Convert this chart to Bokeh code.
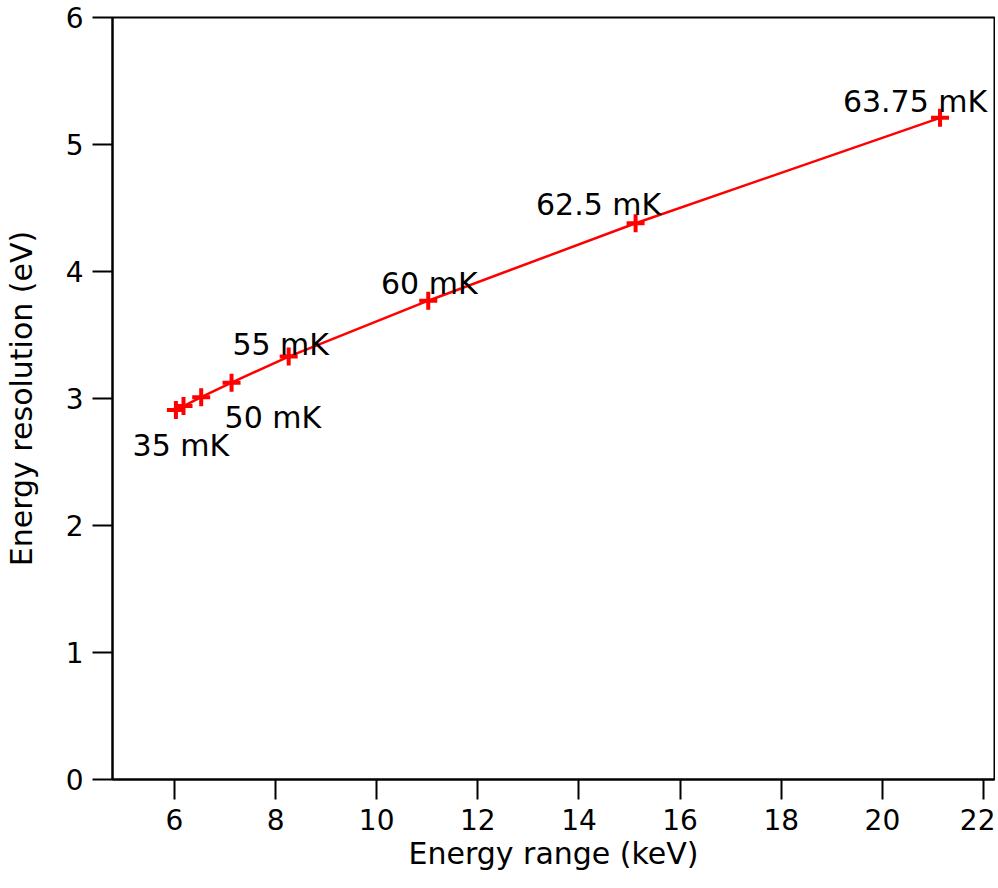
from bokeh.plotting import figure
from bokeh.models import ColumnDataSource, Label, FixedTicker, Range1d
from bokeh.embed import file_html
from bokeh.resources import INLINE

# Data
energy_range = [6.03, 6.18, 6.53, 7.13, 8.26, 11.02, 15.12, 21.14]   # keV
energy_resolution = [2.91, 2.94, 3.01, 3.125, 3.33, 3.77, 4.38, 5.21]  # eV
temperature_labels = ["35 mK", "", "", "50 mK", "55 mK", "60 mK", "62.5 mK", "63.75 mK"]
x_ticks = [6, 8, 10, 12, 14, 16, 18, 20, 22]
y_ticks = [0, 1, 2, 3, 4, 5, 6]

# label placement (style): (x_offset px, y_offset px, align)
label_style = {
    "35 mK": (5, -36, "center"),
    "50 mK": (-7, -35, "left"),
    "55 mK": (-8, 12, "center"),
    "60 mK": (1, 17, "center"),
    "62.5 mK": (-37, 19, "center"),
    "63.75 mK": (-25, 16, "center"),
}

FONT = "DejaVu Sans"
RED = "#ff0000"

p = figure(frame_width=882, frame_height=762,
           min_border_left=107, min_border_right=1,
           min_border_top=17, min_border_bottom=101,
           x_range=Range1d(4.776, 22.217), y_range=Range1d(0, 6),
           output_backend="svg", toolbar_location=None, tools="")

p.background_fill_color = "white"
p.border_fill_color = "white"
p.outline_line_color = "black"
p.outline_line_width = 2
p.xgrid.visible = False
p.ygrid.visible = False

for ax in (p.xaxis[0], p.yaxis[0]):
    ax.axis_line_width = 2
    ax.axis_line_color = "black"
    ax.major_tick_line_width = 2
    ax.major_tick_line_color = "black"
    ax.major_tick_out = 20
    ax.major_tick_in = 0
    ax.minor_tick_line_color = None
    ax.major_label_text_font = FONT
    ax.major_label_text_font_size = "28px"
    ax.major_label_text_color = "black"
    ax.axis_label_text_font = FONT
    ax.axis_label_text_font_size = "30px"
    ax.axis_label_text_font_style = "normal"
    ax.axis_label_text_color = "black"

p.xaxis.ticker = FixedTicker(ticks=x_ticks)
p.yaxis.ticker = FixedTicker(ticks=y_ticks)
p.xaxis.axis_label = "Energy range (keV)"
p.yaxis.axis_label = "Energy resolution (eV)"
p.xaxis.major_label_standoff = 9
p.yaxis.major_label_standoff = 9
p.xaxis.axis_label_standoff = 3
p.yaxis.axis_label_standoff = 24

src = ColumnDataSource(data=dict(x=energy_range, y=energy_resolution))
p.line("x", "y", source=src, line_color=RED, line_width=2.5)
p.scatter("x", "y", source=src, marker="cross", size=18, line_color=RED, line_width=4)

for xv, yv, t in zip(energy_range, energy_resolution, temperature_labels):
    if not t:
        continue
    dx, dy, align = label_style[t]
    p.add_layout(Label(x=xv, y=yv, x_offset=dx, y_offset=dy, text=t,
                       text_align=align, text_baseline="alphabetic",
                       text_font=FONT, text_font_size="30px", text_color="black"))

open("out.html", "w").write(file_html(p, INLINE))
